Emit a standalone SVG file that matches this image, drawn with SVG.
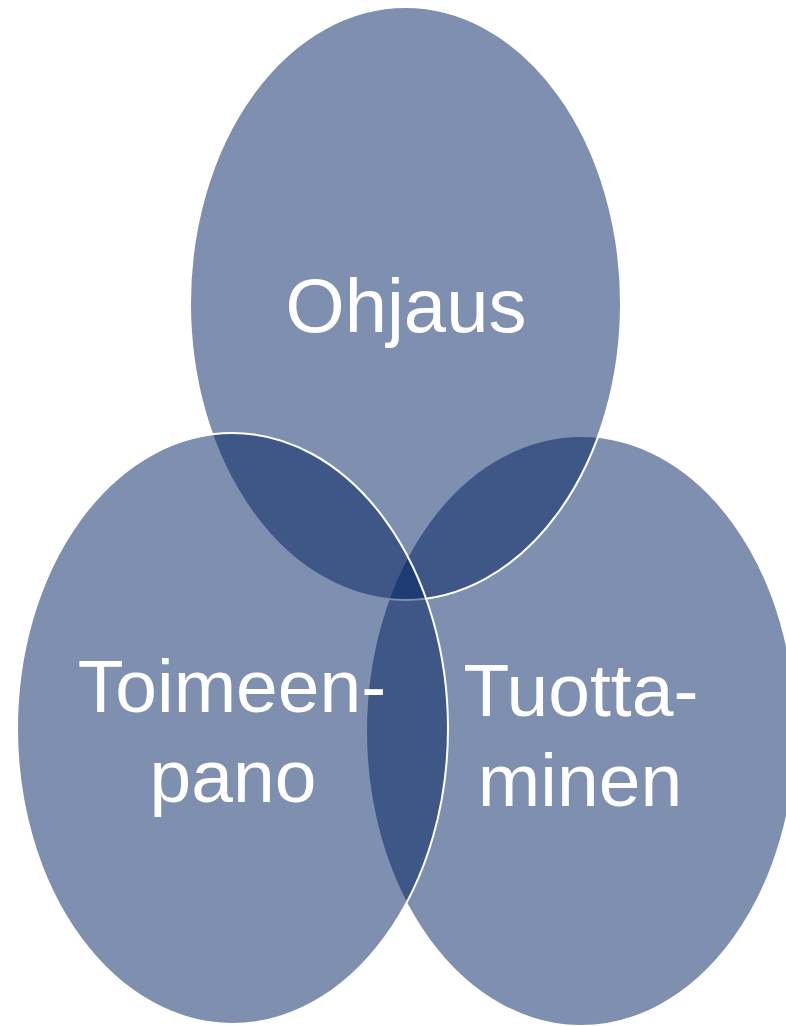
<svg xmlns="http://www.w3.org/2000/svg" width="786" height="1026" viewBox="0 0 786 1026">
  <style>
    .circ { fill: #001f60; fill-opacity: 0.5; stroke: #ffffff; stroke-width: 2; }
    .lbl { font-family: "Liberation Sans", Arial, sans-serif; fill: #ffffff; text-anchor: middle; }
  </style>
  <rect x="0" y="0" width="786" height="1026" fill="#ffffff"/>
  <g id="connectors"></g>
  <g id="node-tuottaminen">
    <ellipse class="circ" cx="581" cy="731" rx="215" ry="295"/>
    <text class="lbl" font-size="75"><tspan x="581" y="716">Tuotta-</tspan><tspan x="580" y="806">minen</tspan></text>
  </g>
  <g id="node-ohjaus">
    <ellipse class="circ" cx="405.5" cy="303.5" rx="215.5" ry="296.5"/>
    <text class="lbl" font-size="76" x="406" y="332">Ohjaus</text>
  </g>
  <g id="node-toimeenpano">
    <ellipse class="circ" cx="232.5" cy="728.5" rx="215.5" ry="295.5"/>
    <text class="lbl" font-size="75"><tspan x="232" y="712">Toimeen-</tspan><tspan x="233" y="802">pano</tspan></text>
  </g>
</svg>
